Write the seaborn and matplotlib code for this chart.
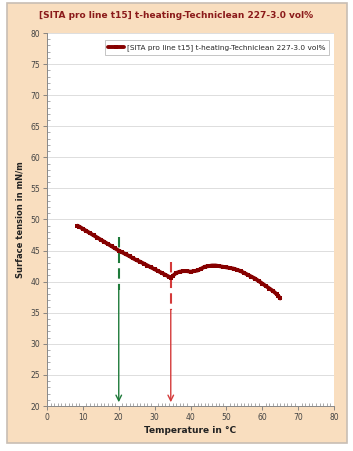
import matplotlib
matplotlib.use("Agg")
import matplotlib.pyplot as plt
from matplotlib.patches import Rectangle
from matplotlib.ticker import MultipleLocator
import seaborn as sns
import pandas as pd

# ---- data ----
temperature = [8.5, 9, 10, 11, 12, 13, 14, 15, 16, 17, 18, 19, 20, 21, 22, 23, 24, 25,
               26, 27, 28, 29, 30, 31, 32, 33, 34, 34.5, 35, 36, 37, 38, 39, 40, 41, 42,
               43, 44, 45, 46, 47, 48, 49, 50, 51, 52, 53, 54, 55, 56, 57, 58, 59, 60,
               61, 62, 63, 64, 64.5, 65]
tension = [49.0, 48.85, 48.5, 48.15, 47.8, 47.45, 47.1, 46.75, 46.4, 46.05, 45.7, 45.35,
           45.0, 44.7, 44.4, 44.1, 43.75, 43.45, 43.2, 42.9, 42.6, 42.3, 42.0, 41.7, 41.4,
           41.1, 40.8, 40.6, 40.9, 41.4, 41.6, 41.7, 41.7, 41.6, 41.7, 41.8, 42.1, 42.4,
           42.5, 42.6, 42.6, 42.5, 42.4, 42.3, 42.2, 42.1, 41.9, 41.7, 41.4, 41.1, 40.8,
           40.5, 40.1, 39.7, 39.3, 38.9, 38.5, 38.0, 37.7, 37.3]
series_name = "[SITA pro line t15] t-heating-Techniclean 227-3.0 vol%"
title = "[SITA pro line t15] t-heating-Techniclean 227-3.0 vol%"
x_label = "Temperature in °C"
y_label = "Surface tension in mN/m"
x_ticks = [0, 10, 20, 30, 40, 50, 60, 70, 80]
y_ticks = [20, 25, 30, 35, 40, 45, 50, 55, 60, 65, 70, 75, 80]
# marker lines: (x, dashed top, dashed bottom)
green_marker = (20, 47.2, 38.7)
red_marker = (34.5, 43.2, 35.5)

sns.set_theme(style="white")
plt.rcParams["font.family"] = ["DejaVu Sans"]

df = pd.DataFrame({"T": temperature, "sigma": tension, "series": series_name})

fig = plt.figure(figsize=(3.53, 4.51), dpi=100)
fig.patch.set_facecolor("white")
peach = "#F9DEBF"
fig.add_artist(Rectangle((7 / 353, 8 / 451), 340 / 353, 440 / 451,
                         transform=fig.transFigure, facecolor=peach,
                         edgecolor="#C8BEB4", linewidth=1.2, zorder=0))

ax = fig.add_axes([47 / 353, 45 / 451, 287 / 353, 373 / 451])
ax.set_facecolor("white")

sns.lineplot(data=df, x="T", y="sigma", hue="series", palette=["#860000"],
             marker="s", markersize=2.6, markeredgewidth=0, linewidth=2.8,
             ax=ax, sort=False, zorder=5)

# vertical indicator lines with arrows
for (xv, top, bot), col in [(green_marker, "#1E7A3A"), (red_marker, "#D43A3A")]:
    ax.plot([xv, xv], [top, bot], color=col, linewidth=1.5, linestyle=(0, (5, 2.5)), zorder=4)
    ax.annotate("", xy=(xv, 20.6), xytext=(xv, bot),
                arrowprops=dict(arrowstyle="->", color=col, lw=1.0,
                                mutation_scale=10, shrinkA=0, shrinkB=0), zorder=4)

ax.set_xlim(0, 80)
ax.set_ylim(20, 80)
ax.set_xticks(x_ticks)
ax.set_yticks(y_ticks)
ax.xaxis.set_minor_locator(MultipleLocator(1))
ax.yaxis.set_minor_locator(MultipleLocator(1))
ax.tick_params(axis="both", which="major", labelsize=5.5, labelcolor="#444444",
               length=3, width=0.6, color="#777777", direction="out", pad=2)
ax.tick_params(axis="both", which="minor", length=2, width=0.5, color="#888888",
               direction="in")
ax.tick_params(axis="x", which="both", bottom=True)
ax.tick_params(axis="y", which="both", left=True)
ax.grid(axis="y", which="major", color="#DDDDDD", linewidth=0.7)
ax.set_axisbelow(True)
for s in ["top", "right"]:
    ax.spines[s].set_visible(False)
for s in ["left", "bottom"]:
    ax.spines[s].set_color("#888888")
    ax.spines[s].set_linewidth(0.7)

ax.set_xlabel(x_label, fontsize=6.5, fontweight="bold", color="#222222", labelpad=3)
ax.set_ylabel(y_label, fontsize=6.0, fontweight="bold", color="#222222", labelpad=4)

leg = ax.legend(loc="upper right", fontsize=5.3, frameon=True, fancybox=False,
                borderpad=0.5, handlelength=2.2, handletextpad=0.3,
                bbox_to_anchor=(0.995, 0.99))
leg.get_frame().set_edgecolor("#AAAAAA")
leg.get_frame().set_linewidth(0.6)
leg.set_title(None)

fig.text(0.5, 1 - 16 / 451, title, ha="center", va="center", fontsize=6.5,
         fontweight="bold", color="#8B1A1A")

fig.savefig("out.png", dpi=100)
